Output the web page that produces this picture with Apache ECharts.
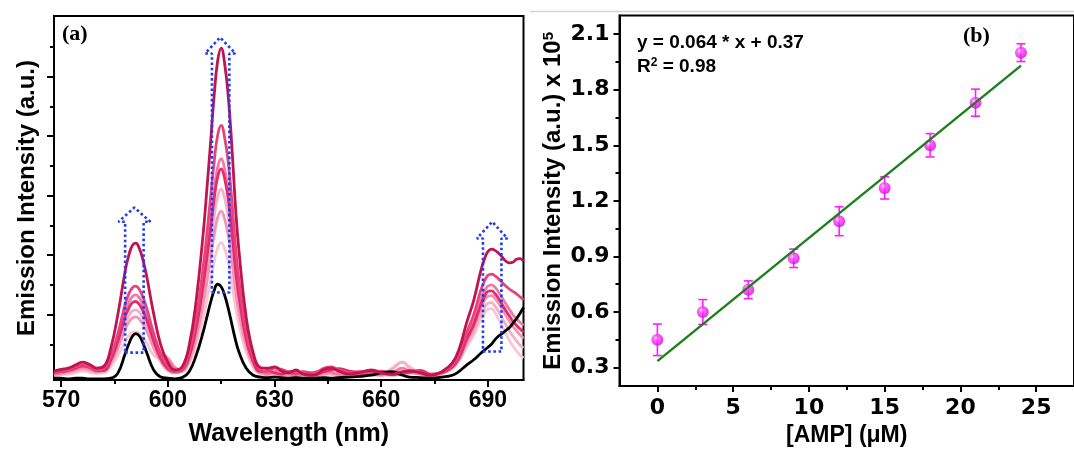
<!DOCTYPE html>
<html><head><meta charset="utf-8">
<script src="https://cdn.jsdelivr.net/npm/echarts@6/dist/echarts.min.js"></script>
<style>html,body{margin:0;padding:0;background:#fff}#c{width:1074px;height:452px}</style>
</head><body><div id="c"></div>
<script>
// ---------- Panel (a) data: emission spectra ----------
const wavelengths = [568,570,572,574,576,578,580,582,
 584,586,588,589,590,591,592,593,594,596,598,600,
 602,604,606,608,610,611,612,613,614,615,616,617,618,619,620,
 622,624,626,628,630,632,634,636,638,641,644,646,648,651,654,657,660,663,666,668,671,674,
 677,680,682,684,686,688,689,690,691,692,693,694,695,696,697,698,699,700];

const spec1 = [0.15,0.18,0.2,0.25,0.3,0.26,0.2,0.23,
 0.54,1.12,1.83,2.09,2.26,2.30,2.21,2.02,1.76,1.12,0.59,0.30,
 0.17,0.22,0.58,1.35,2.5,3.22,3.98,4.76,5.36,5.58,5.31,4.76,3.93,2.94,2.17,
 1.07,0.46,0.21,0.2,0.22,0.15,0.12,0.17,0.1,0.08,0.18,0.2,0.15,0.1,0.13,0.16,0.12,0.1,0.14,0.15,0.12,0.08,
 0.14,0.29,0.54,0.96,1.34,1.84,2.03,2.16,2.2,2.18,2.13,2.07,2.0,1.97,1.98,2.03,2.04,1.99];
const spec2 = [0.12,0.15,0.17,0.22,0.26,0.22,0.17,0.19,
 0.41,0.79,1.27,1.44,1.55,1.58,1.52,1.39,1.22,0.79,0.44,0.23,
 0.14,0.18,0.46,1.05,1.93,2.47,3.06,3.65,4.11,4.28,4.07,3.65,3.02,2.26,1.68,
 0.84,0.37,0.18,0.14,0.2,0.18,0.13,0.1,0.14,0.12,0.2,0.22,0.17,0.12,0.1,0.14,0.15,0.11,0.13,0.16,0.13,0.09,
 0.13,0.25,0.45,0.79,1.1,1.51,1.66,1.76,1.78,1.75,1.7,1.64,1.58,1.53,1.49,1.45,1.4,1.35];
const spec3 = [0.1,0.12,0.15,0.18,0.22,0.2,0.15,0.17,
 0.36,0.72,1.14,1.3,1.4,1.43,1.38,1.26,1.11,0.72,0.44,0.35,
 0.2,0.17,0.41,0.92,1.68,2.15,2.66,3.17,3.57,3.72,3.54,3.17,2.63,1.97,1.46,
 0.74,0.32,0.15,0.1,0.14,0.16,0.1,0.08,0.1,0.13,0.16,0.13,0.1,0.12,0.15,0.1,0.08,0.12,0.2,0.14,0.1,0.07,
 0.12,0.23,0.41,0.72,0.99,1.36,1.49,1.58,1.6,1.56,1.48,1.38,1.28,1.19,1.1,1.03,0.97,0.92];
const spec4 = [0.12,0.14,0.16,0.2,0.24,0.21,0.16,0.16,
 0.34,0.66,1.06,1.2,1.3,1.32,1.27,1.16,1.02,0.66,0.36,0.19,
 0.14,0.17,0.39,0.88,1.61,2.06,2.54,3.03,3.41,3.55,3.38,3.03,2.51,1.88,1.4,
 0.7,0.31,0.14,0.16,0.12,0.1,0.14,0.15,0.11,0.09,0.14,0.17,0.19,0.15,0.12,0.17,0.13,0.09,0.12,0.13,0.16,0.1,
 0.12,0.22,0.39,0.68,0.93,1.27,1.4,1.49,1.5,1.45,1.37,1.27,1.17,1.08,0.99,0.92,0.86,0.8];
const spec5 = [0.08,0.1,0.12,0.15,0.18,0.16,0.13,0.15,
 0.31,0.6,0.95,1.07,1.16,1.18,1.14,1.04,0.92,0.6,0.45,0.38,
 0.22,0.16,0.36,0.8,1.46,1.86,2.3,2.74,3.08,3.21,3.05,2.74,2.27,1.71,1.27,
 0.64,0.28,0.12,0.09,0.1,0.12,0.09,0.07,0.09,0.1,0.12,0.1,0.08,0.09,0.11,0.09,0.1,0.18,0.3,0.2,0.12,0.07,
 0.11,0.2,0.35,0.59,0.81,1.1,1.21,1.29,1.3,1.24,1.15,1.04,0.93,0.83,0.74,0.66,0.59,0.54];
const spec6 = [0.1,0.12,0.14,0.17,0.2,0.17,0.14,0.15,
 0.29,0.54,0.85,0.97,1.04,1.06,1.02,0.94,0.83,0.54,0.31,0.16,
 0.12,0.15,0.33,0.71,1.29,1.65,2.04,2.43,2.73,2.84,2.7,2.43,2.01,1.52,1.13,
 0.58,0.26,0.12,0.13,0.11,0.08,0.1,0.12,0.09,0.07,0.1,0.12,0.1,0.08,0.09,0.12,0.1,0.08,0.1,0.12,0.1,0.07,
 0.12,0.21,0.37,0.64,0.88,1.21,1.33,1.41,1.42,1.37,1.29,1.19,1.09,0.99,0.9,0.83,0.76,0.7];
const spec7 = [0.07,0.09,0.1,0.12,0.15,0.13,0.11,0.12,
 0.23,0.42,0.65,0.74,0.8,0.81,0.78,0.72,0.63,0.42,0.36,0.3,
 0.18,0.14,0.28,0.59,1.06,1.35,1.66,1.98,2.22,2.31,2.2,1.98,1.64,1.24,0.93,
 0.48,0.22,0.1,0.07,0.08,0.07,0.06,0.08,0.07,0.06,0.08,0.09,0.07,0.06,0.07,0.08,0.09,0.2,0.3,0.22,0.12,0.06,
 0.11,0.19,0.33,0.55,0.75,1.02,1.12,1.19,1.2,1.13,1.02,0.9,0.78,0.67,0.57,0.49,0.42,0.37];
const specBlank = [0.03,0.03,0.02,0.03,0.03,0.02,0.02,0.02,
 0.03,0.12,0.44,0.6,0.73,0.78,0.74,0.62,0.47,0.17,0.05,0.03,
 0.02,0.04,0.14,0.42,0.82,1.06,1.3,1.5,1.61,1.57,1.42,1.2,0.94,0.68,0.47,
 0.2,0.08,0.05,0.04,0.05,0.04,0.03,0.04,0.03,0.03,0.04,0.03,0.04,0.05,0.06,0.08,0.12,0.14,0.08,0.05,0.04,0.03,
 0.05,0.08,0.15,0.25,0.34,0.45,0.5,0.55,0.6,0.68,0.74,0.78,0.83,0.88,0.95,1.03,1.12,1.22];

// dotted "increase" arrows (outline points in data units)
const arrow591 = [[588.0,0.46],[593.2,0.46],[593.2,2.66],[595.1,2.66],[590.6,2.9],[586.1,2.66],[588.0,2.66],[588.0,0.46]];
const arrow615 = [[612.4,1.47],[617.3,1.47],[617.3,5.49],[619.0,5.49],[614.7,5.76],[610.5,5.49],[612.4,5.49],[612.4,1.47]];
const arrow690 = [[688.6,0.48],[693.8,0.48],[693.8,2.38],[695.5,2.38],[691.2,2.66],[686.9,2.38],[688.6,2.38],[688.6,0.48]];

const waveTicks = [570,600,630,660,690];
const waveMinorTicks = [585,615,645,675];
const intensityTicksA = [1.1,2.1,3.1,4.1,5.1];
const intensityMinorA = [0.6,1.6,2.6,3.6,4.6,5.6];

// ---------- Panel (b) data: calibration ----------
const ampConc = [0,3,6,9,12,15,18,21,24];
const emission = [0.45,0.60,0.72,0.89,1.09,1.27,1.50,1.73,2.00];
const emissionErr = [0.085,0.067,0.048,0.05,0.078,0.06,0.063,0.073,0.048];
const fitX = [0,24];
const fitY = [0.335,1.93];
const concTicks = [0,5,10,15,20,25];
const concMinor = [2.5,7.5,12.5,17.5,22.5];
const emTicks = [0.3,0.6,0.9,1.2,1.5,1.8,2.1];
const emMinor = [0.45,0.75,1.05,1.35,1.65,1.95];

[spec1,spec2,spec3,spec4,spec5,spec6,spec7,specBlank].forEach((s,i)=>{
  if (s.length !== wavelengths.length) throw new Error('length mismatch in spectrum '+i+': '+s.length);
});

const zip = (xs, ys) => xs.map((x,i)=>[x, ys[i]]);

// drawing order and colours
const spectra = [
  {d: spec7, c: '#f9c6d5'},
  {d: spec5, c: '#f6afc5'},
  {d: spec6, c: '#f294b4'},
  {d: spec3, c: '#f07aa2'},
  {d: spec4, c: '#e62b6c'},
  {d: spec2, c: '#e3457c'},
  {d: specBlank, c: '#000000'},
  {d: spec1, c: '#c0134f'}
];

const SANS = 'Liberation Sans, Arial, sans-serif';
const DJ = 'DejaVu Sans, sans-serif';
const bold = (size, fam) => ({fontFamily: fam || SANS, fontWeight: 'bold', fontSize: size, color: '#000'});

const chart = echarts.init(document.getElementById('c'), null, {renderer: 'canvas'});

const series = [];
spectra.forEach(s => series.push({
  type: 'line', xAxisIndex: 0, yAxisIndex: 0, data: zip(wavelengths, s.d),
  smooth: 0.45, symbol: 'none', lineStyle: {color: s.c, width: 2.8}, z: 2
}));
[arrow591, arrow615, arrow690].forEach(a => series.push({
  type: 'line', xAxisIndex: 0, yAxisIndex: 0, data: a, symbol: 'none', smooth: false,
  lineStyle: {color: '#1f3cf2', width: 2.6, type: [2.6, 2.6]}, z: 5
}));

series.push({
  type: 'custom', xAxisIndex: 2, yAxisIndex: 2, z: 3,
  data: ampConc.map((x,i)=>[x, emission[i], emissionErr[i]]),
  encode: {x: 0, y: 1},
  renderItem: (params, api) => {
    const x = api.value(0), y = api.value(1), e = api.value(2);
    const t = api.coord([x, y + e]), b = api.coord([x, y - e]);
    const hw = 4.5, st = {stroke: '#ff1dff', lineWidth: 1.6};
    return {type: 'group', children: [
      {type: 'line', shape: {x1: t[0], y1: t[1], x2: b[0], y2: b[1]}, style: st},
      {type: 'line', shape: {x1: t[0]-hw, y1: t[1], x2: t[0]+hw, y2: t[1]}, style: st},
      {type: 'line', shape: {x1: b[0]-hw, y1: b[1], x2: b[0]+hw, y2: b[1]}, style: st}
    ]};
  }
});
series.push({
  type: 'scatter', xAxisIndex: 2, yAxisIndex: 2, z: 4,
  data: zip(ampConc, emission), symbol: 'circle', symbolSize: 12,
  itemStyle: {color: {type: 'radial', x: 0.38, y: 0.35, r: 0.7, colorStops: [
    {offset: 0, color: '#ffe0ff'}, {offset: 0.3, color: '#ff40ff'}, {offset: 1, color: '#d600d6'}]}}
});
series.push({
  type: 'line', xAxisIndex: 2, yAxisIndex: 2, z: 6, data: zip(fitX, fitY),
  symbol: 'none', lineStyle: {color: '#1c7f1c', width: 2.4}
});

const axisLine = {show: true, onZero: false, lineStyle: {color: '#000', width: 2}};
const tickStyle = {color: '#000', width: 2};

const option = {
  animation: false,
  backgroundColor: '#fff',
  grid: [
    {left: 54, top: 16, width: 469.5, height: 369.4, show: true, borderColor: '#000', borderWidth: 2, containLabel: false},
    {left: 619.5, top: 15.6, width: 462.5, height: 378.2, show: true, borderColor: '#000', borderWidth: 2, containLabel: false}
  ],
  xAxis: [
    {gridIndex: 0, type: 'value', min: 568, max: 700, axisLine: axisLine,
     axisTick: {show: true, customValues: waveTicks, length: 7, lineStyle: tickStyle},
     axisLabel: {customValues: waveTicks, margin: 9, ...bold(23)},
     splitLine: {show: false},
     name: 'Wavelength (nm)', nameLocation: 'middle', nameGap: 42, nameTextStyle: bold(25)},
    {gridIndex: 0, type: 'value', min: 568, max: 700, position: 'bottom', axisLine: {show: false, onZero: false},
     axisTick: {show: true, customValues: waveMinorTicks, length: 4, lineStyle: tickStyle},
     axisLabel: {show: false}, splitLine: {show: false}},
    {gridIndex: 1, type: 'value', min: -2.5, max: 27.5, axisLine: axisLine,
     axisTick: {show: true, customValues: concTicks, length: 6, lineStyle: tickStyle},
     axisLabel: {customValues: concTicks, margin: 11, ...bold(22, DJ)},
     splitLine: {show: false},
     name: '[AMP] (μM)', nameLocation: 'middle', nameGap: 31, nameTextStyle: bold(23)},
    {gridIndex: 1, type: 'value', min: -2.5, max: 27.5, position: 'bottom', axisLine: {show: false, onZero: false},
     axisTick: {show: true, customValues: concMinor, length: 4, lineStyle: tickStyle},
     axisLabel: {show: false}, splitLine: {show: false}}
  ],
  yAxis: [
    {gridIndex: 0, type: 'value', min: 0, max: 6.12, axisLine: axisLine,
     axisTick: {show: true, customValues: intensityTicksA, length: 7, lineStyle: tickStyle},
     axisLabel: {show: false}, splitLine: {show: false},
     name: 'Emission Intensity (a.u.)', nameLocation: 'middle', nameGap: 15, nameTextStyle: bold(24)},
    {gridIndex: 0, type: 'value', min: 0, max: 6.12, position: 'left', axisLine: {show: false, onZero: false},
     axisTick: {show: true, customValues: intensityMinorA, length: 4, lineStyle: tickStyle},
     axisLabel: {show: false}, splitLine: {show: false}},
    {gridIndex: 1, type: 'value', min: 0.2, max: 2.2, position: 'left', axisLine: axisLine,
     axisTick: {show: true, customValues: emTicks, length: 6, lineStyle: tickStyle},
     axisLabel: {customValues: emTicks, margin: 10, formatter: v => v.toFixed(1), ...bold(22, DJ)},
     splitLine: {show: false},
     name: '{a|Emission Intensity (a.u.) x 10}{s|5}', nameLocation: 'middle', nameGap: 54,
     nameTextStyle: {...bold(24), rich: {a: bold(24), s: {...bold(15), verticalAlign: 'top'}}}},
    {gridIndex: 1, type: 'value', min: 0.2, max: 2.2, position: 'left', axisLine: {show: false, onZero: false},
     axisTick: {show: true, customValues: emMinor, length: 4, lineStyle: tickStyle},
     axisLabel: {show: false}, splitLine: {show: false}}
  ],
  graphic: [
    {type: 'line', shape: {x1: 530, y1: 11.5, x2: 1074, y2: 11.5}, style: {stroke: '#d4d4d4', lineWidth: 1.5}},
    {type: 'text', left: 62, top: 23, style: {text: '(a)', font: 'bold 22px "Liberation Serif", "Times New Roman", serif', fill: '#000'}},
    {type: 'text', left: 963, top: 25, style: {text: '(b)', font: 'bold 22px "Liberation Serif", "Times New Roman", serif', fill: '#000'}},
    {type: 'text', left: 637, top: 33, style: {text: 'y = 0.064 * x + 0.37', font: 'bold 19px "Liberation Sans", Arial, sans-serif', fill: '#000'}},
    {type: 'text', left: 637, top: 57, style: {
      text: '{r|R}{s|2}{r| = 0.98}',
      rich: {r: {font: 'bold 19px "Liberation Sans", Arial, sans-serif', fill: '#000'},
             s: {font: 'bold 12px "Liberation Sans", Arial, sans-serif', fill: '#000', verticalAlign: 'top'}}}}
  ],
  series: series
};
chart.setOption(option);
</script>
</body></html>
